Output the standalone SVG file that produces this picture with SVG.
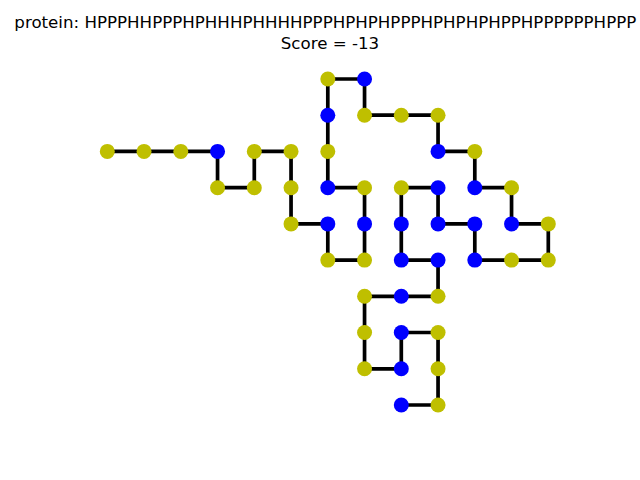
<svg xmlns="http://www.w3.org/2000/svg" width="640" height="480" viewBox="0 0 640 480">
<style>
text{font-family:"DejaVu Sans","Liberation Sans",sans-serif;font-size:16.67px;fill:#000;text-anchor:middle}
.h{fill:#0000ff}
.p{fill:#bfbf00}
.bond{fill:none;stroke:#000;stroke-width:3.7;stroke-linejoin:miter}
</style>
<rect width="640" height="480" fill="#fff"/>
<text x="325.3" y="27.5">protein: HPPPHHPPPHPHHHPHHHHPPPHPHPHPPPHPHPHPHPPHPPPPPPHPPP</text>
<text x="330" y="49">Score = -13</text>
<g id="connectors">
<polyline class="bond" points="107.3,151.4 144.05,151.4 180.8,151.4 217.55,151.4 217.55,187.7 254.3,187.7 254.3,151.4 291.05,151.4 291.05,187.7 291.05,223.9 327.8,223.9 327.8,260.1 364.55,260.1 364.55,223.9 364.55,187.7 327.8,187.7 327.8,151.4 327.8,115.2 327.8,79 364.55,79 364.55,115.2 401.3,115.2 438.05,115.2 438.05,151.4 474.8,151.4 474.8,187.7 511.55,187.7 511.55,223.9 548.3,223.9 548.3,260.1 511.55,260.1 474.8,260.1 474.8,223.9 438.05,223.9 438.05,187.7 401.3,187.7 401.3,223.9 401.3,260.1 438.05,260.1 438.05,296.3 401.3,296.3 364.55,296.3 364.55,332.5 364.55,368.8 401.3,368.8 401.3,332.5 438.05,332.5 438.05,368.8 438.05,405 401.3,405"/>
</g>
<g id="n1"><circle class="h" cx="401.3" cy="405" r="7.5"/></g>
<g id="n2"><circle class="p" cx="438.05" cy="405" r="7.5"/></g>
<g id="n3"><circle class="p" cx="438.05" cy="368.8" r="7.5"/></g>
<g id="n4"><circle class="p" cx="438.05" cy="332.5" r="7.5"/></g>
<g id="n5"><circle class="h" cx="401.3" cy="332.5" r="7.5"/></g>
<g id="n6"><circle class="h" cx="401.3" cy="368.8" r="7.5"/></g>
<g id="n7"><circle class="p" cx="364.55" cy="368.8" r="7.5"/></g>
<g id="n8"><circle class="p" cx="364.55" cy="332.5" r="7.5"/></g>
<g id="n9"><circle class="p" cx="364.55" cy="296.3" r="7.5"/></g>
<g id="n10"><circle class="h" cx="401.3" cy="296.3" r="7.5"/></g>
<g id="n11"><circle class="p" cx="438.05" cy="296.3" r="7.5"/></g>
<g id="n12"><circle class="h" cx="438.05" cy="260.1" r="7.5"/></g>
<g id="n13"><circle class="h" cx="401.3" cy="260.1" r="7.5"/></g>
<g id="n14"><circle class="h" cx="401.3" cy="223.9" r="7.5"/></g>
<g id="n15"><circle class="p" cx="401.3" cy="187.7" r="7.5"/></g>
<g id="n16"><circle class="h" cx="438.05" cy="187.7" r="7.5"/></g>
<g id="n17"><circle class="h" cx="438.05" cy="223.9" r="7.5"/></g>
<g id="n18"><circle class="h" cx="474.8" cy="223.9" r="7.5"/></g>
<g id="n19"><circle class="h" cx="474.8" cy="260.1" r="7.5"/></g>
<g id="n20"><circle class="p" cx="511.55" cy="260.1" r="7.5"/></g>
<g id="n21"><circle class="p" cx="548.3" cy="260.1" r="7.5"/></g>
<g id="n22"><circle class="p" cx="548.3" cy="223.9" r="7.5"/></g>
<g id="n23"><circle class="h" cx="511.55" cy="223.9" r="7.5"/></g>
<g id="n24"><circle class="p" cx="511.55" cy="187.7" r="7.5"/></g>
<g id="n25"><circle class="h" cx="474.8" cy="187.7" r="7.5"/></g>
<g id="n26"><circle class="p" cx="474.8" cy="151.4" r="7.5"/></g>
<g id="n27"><circle class="h" cx="438.05" cy="151.4" r="7.5"/></g>
<g id="n28"><circle class="p" cx="438.05" cy="115.2" r="7.5"/></g>
<g id="n29"><circle class="p" cx="401.3" cy="115.2" r="7.5"/></g>
<g id="n30"><circle class="p" cx="364.55" cy="115.2" r="7.5"/></g>
<g id="n31"><circle class="h" cx="364.55" cy="79" r="7.5"/></g>
<g id="n32"><circle class="p" cx="327.8" cy="79" r="7.5"/></g>
<g id="n33"><circle class="h" cx="327.8" cy="115.2" r="7.5"/></g>
<g id="n34"><circle class="p" cx="327.8" cy="151.4" r="7.5"/></g>
<g id="n35"><circle class="h" cx="327.8" cy="187.7" r="7.5"/></g>
<g id="n36"><circle class="p" cx="364.55" cy="187.7" r="7.5"/></g>
<g id="n37"><circle class="h" cx="364.55" cy="223.9" r="7.5"/></g>
<g id="n38"><circle class="p" cx="364.55" cy="260.1" r="7.5"/></g>
<g id="n39"><circle class="p" cx="327.8" cy="260.1" r="7.5"/></g>
<g id="n40"><circle class="h" cx="327.8" cy="223.9" r="7.5"/></g>
<g id="n41"><circle class="p" cx="291.05" cy="223.9" r="7.5"/></g>
<g id="n42"><circle class="p" cx="291.05" cy="187.7" r="7.5"/></g>
<g id="n43"><circle class="p" cx="291.05" cy="151.4" r="7.5"/></g>
<g id="n44"><circle class="p" cx="254.3" cy="151.4" r="7.5"/></g>
<g id="n45"><circle class="p" cx="254.3" cy="187.7" r="7.5"/></g>
<g id="n46"><circle class="p" cx="217.55" cy="187.7" r="7.5"/></g>
<g id="n47"><circle class="h" cx="217.55" cy="151.4" r="7.5"/></g>
<g id="n48"><circle class="p" cx="180.8" cy="151.4" r="7.5"/></g>
<g id="n49"><circle class="p" cx="144.05" cy="151.4" r="7.5"/></g>
<g id="n50"><circle class="p" cx="107.3" cy="151.4" r="7.5"/></g>
</svg>
